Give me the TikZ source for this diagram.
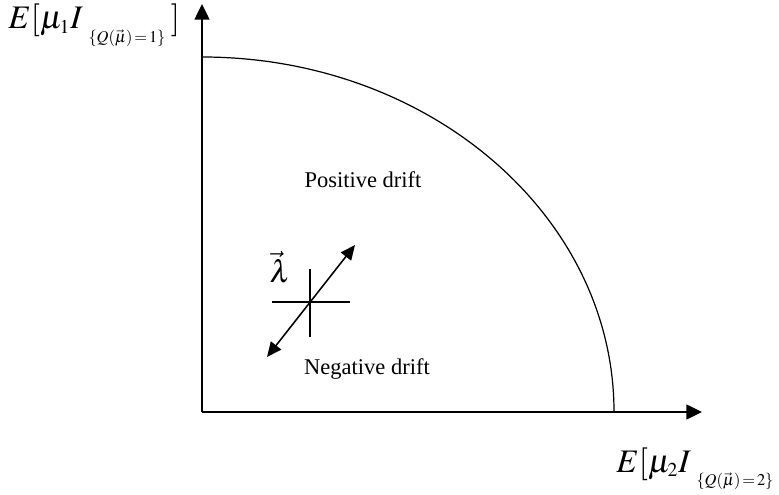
\documentclass[tikz,border=0pt]{standalone}
\usepackage{mathptmx}
\usepackage{fontspec}
\setmainfont{Liberation Serif}
\usetikzlibrary{arrows.meta}

\newcommand{\indsub}[1]{\raisebox{-8pt}{\fontsize{9.5}{10}\selectfont$\{Q(\vec{\mu})\!=\!#1\}$}}

\begin{document}
\begin{tikzpicture}[x=0.578pt, y=-0.578pt, font=\fontsize{13}{15}\selectfont,
    axis/.style={line width=1.2pt, -{Triangle[length=9pt, width=8.5pt]}},
    biglabel/.style={font=\fontsize{19}{22}\selectfont, inner sep=0pt}]
    \useasboundingbox (0,0) rectangle (779,495);
    % axes
    \coordinate (origin) at (202,412);
    \coordinate (ytip) at (202,4);
    \coordinate (xtip) at (702,412);
    \draw[axis] (origin) -- (ytip);
    \draw[axis] (origin) -- (xtip);
    % stability boundary
    \coordinate (ytop) at (202,57);
    \draw[line width=0.7pt] (ytop) arc[start angle=-90, end angle=0, x radius=412, y radius=355];
    % axis labels
    \node[biglabel, anchor=base west] (ylabel) at (8,29)
      {$E[\mu_{\scriptscriptstyle 1}I$\,\indsub{1}\,$]$};
    \node[biglabel, anchor=base west] (xlabel) at (616,472)
      {$E[\mu_{\scriptscriptstyle 2}I$\,\indsub{2}\,$]$};
    % regions
    \node (pos) at (363,180) {Positive drift};
    \node (neg) at (367,369) {Negative drift};
    % arrival rate point
    \coordinate (lam) at (310,302);
    \draw[line width=0.7pt] ([xshift=-22]lam) -- ([xshift=23]lam);
    \draw[line width=0.7pt] ([yshift=-20]lam) -- ([yshift=19]lam);
    \coordinate (lamlo) at (267,357);
    \coordinate (lamhi) at (355,245);
    \draw[line width=0.9pt, {Triangle[length=8.5pt, width=7.5pt]}-{Triangle[length=8.5pt, width=7.5pt]}] (lamlo) -- (lamhi);
    \node[font=\fontsize{18}{20}\selectfont, inner sep=0pt] (lamtext) at (280,267) {$\vec{\lambda}$};
\end{tikzpicture}
\end{document}
